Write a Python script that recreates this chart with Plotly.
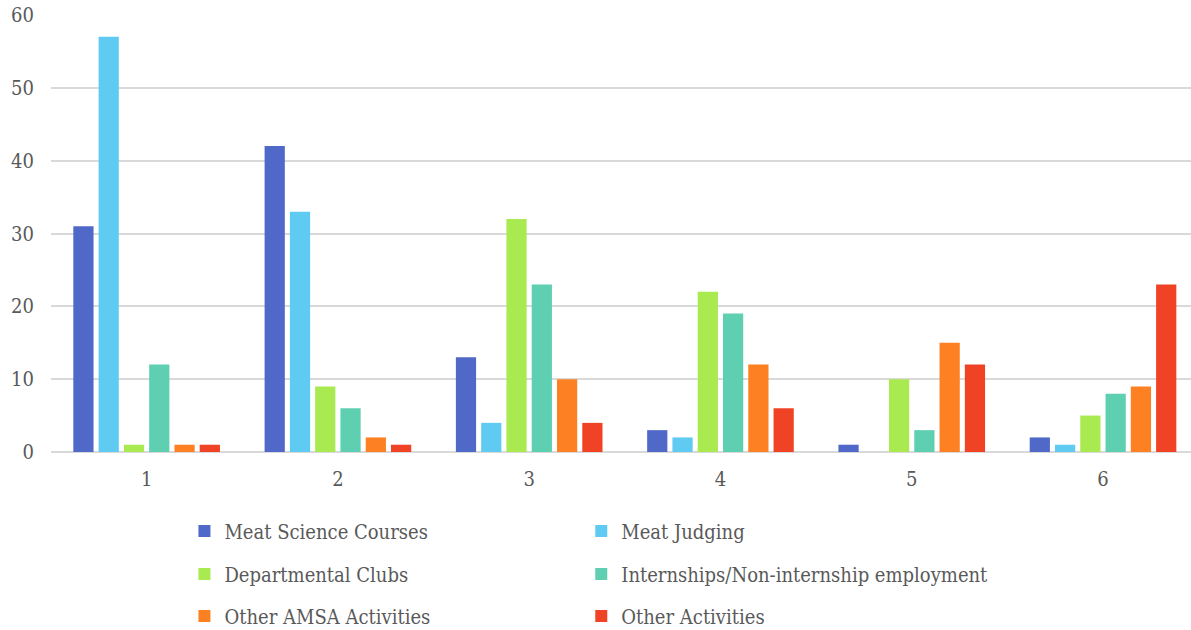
import plotly.graph_objects as go

categories = [1, 2, 3, 4, 5, 6]
category_labels = ["1", "2", "3", "4", "5", "6"]

meat_science_courses = [31, 42, 13, 3, 1, 2]
meat_judging = [57, 33, 4, 2, 0, 1]
departmental_clubs = [1, 9, 32, 22, 10, 5]
internships = [12, 6, 23, 19, 3, 8]
other_amsa = [1, 2, 10, 12, 15, 9]
other_activities = [1, 1, 4, 6, 12, 23]

series_names = [
    "Meat Science Courses", "Meat Judging", "Departmental Clubs",
    "Internships/Non-internship employment", "Other AMSA Activities", "Other Activities",
]
series_values = [
    meat_science_courses, meat_judging, departmental_clubs,
    internships, other_amsa, other_activities,
]
series_colors = ["#5068c8", "#5fcbf3", "#a8ea50", "#5ecfb1", "#fd8023", "#f04224"]

W, H = 1191, 630
ML, MR, MT, MB = 50.5, 0, 15, 178
plot_h = H - MT - MB
plot_w = W - ML - MR

FONT = "DejaVu Serif Condensed"
GREY = "#595959"
FS = 20

# legend entries laid out two per row, three rows, each in its own legend box
legend_cols_px = [184, 581]
legend_rows_px = [531, 574, 616]

fig = go.Figure()
layout_legends = {}
for i, (name, vals, color) in enumerate(zip(series_names, series_values, series_colors)):
    key = "legend" if i == 0 else f"legend{i + 1}"
    fig.add_trace(go.Bar(
        x=categories, y=vals, name=name, legend=key,
        marker=dict(color=color, line=dict(width=0)),
    ))
    px = legend_cols_px[i % 2]
    py = legend_rows_px[i // 2]
    layout_legends[key] = dict(
        orientation="h",
        x=(px - ML) / plot_w,
        xanchor="left",
        y=(H - MB - py) / plot_h,
        yanchor="middle",
        font=dict(family=FONT, size=FS, color=GREY),
        bgcolor="rgba(0,0,0,0)",
        itemclick=False,
    )

fig.update_layout(
    width=W, height=H,
    margin=dict(l=ML, r=MR, t=MT, b=MB, autoexpand=False),
    paper_bgcolor="white",
    plot_bgcolor="white",
    barmode="group",
    bargap=0.207,
    bargroupgap=0.2,
    font=dict(family=FONT, size=FS, color=GREY),
    showlegend=True,
    xaxis=dict(
        range=[0.5, 6.46],
        tickvals=categories,
        ticktext=category_labels,
        showgrid=False,
        zeroline=False,
        showline=False,
        ticks="",
        ticklabelstandoff=13,
        tickfont=dict(family=FONT, size=FS, color=GREY),
    ),
    yaxis=dict(
        range=[0, 60],
        dtick=10,
        showgrid=True,
        gridcolor="#d9d9d9",
        gridwidth=1.5,
        zeroline=True,
        zerolinecolor="#d9d9d9",
        zerolinewidth=1.5,
        showline=False,
        ticks="",
        ticklabelstandoff=16,
        tickfont=dict(family=FONT, size=FS, color=GREY),
    ),
    **layout_legends,
)

fig.write_html("out.html")
